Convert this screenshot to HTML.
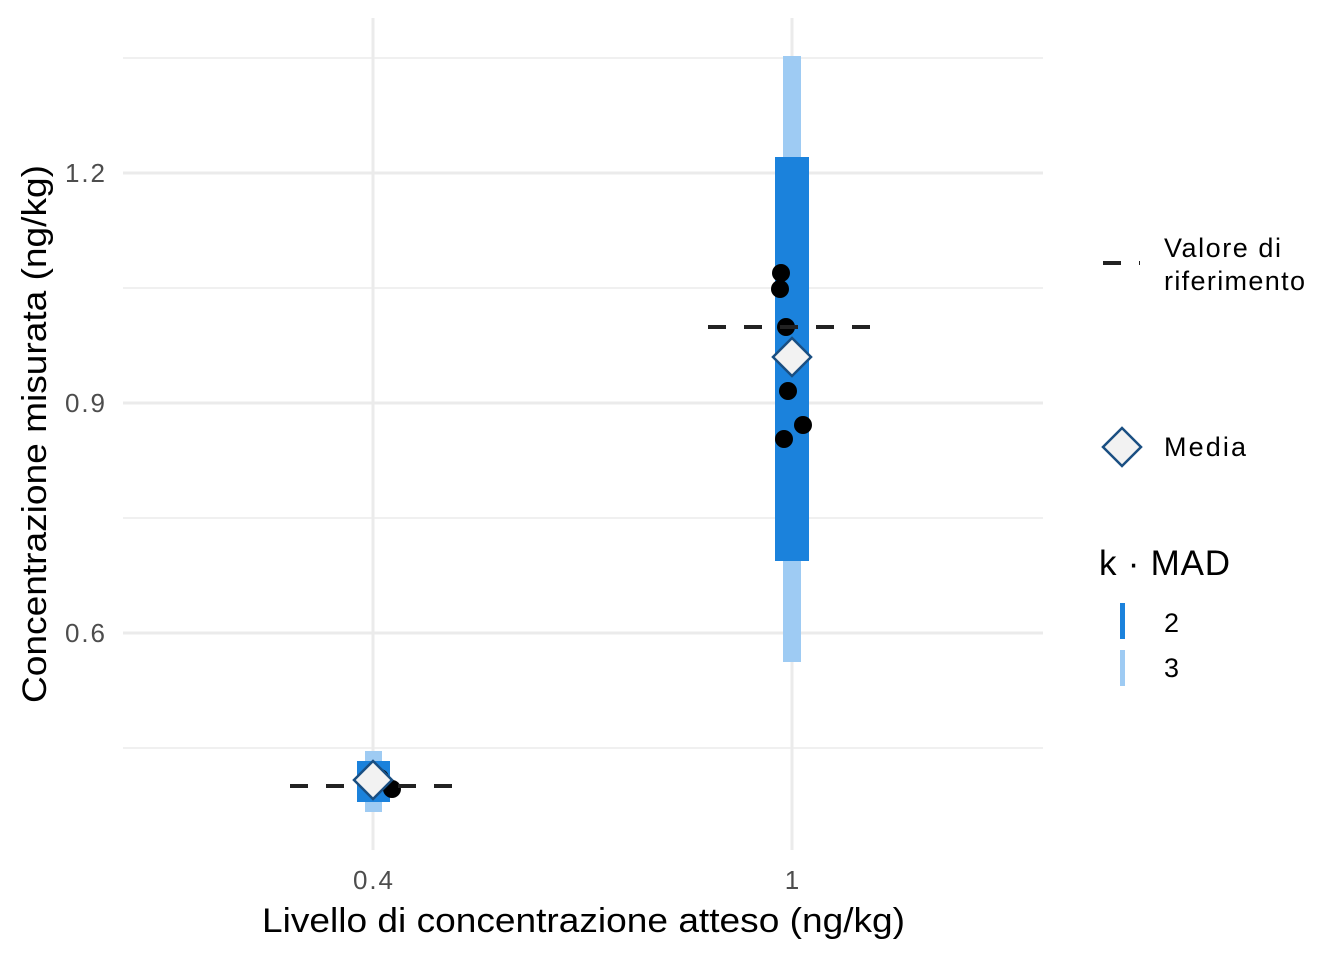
<!DOCTYPE html><html><head><meta charset="utf-8"><style>body{margin:0;background:#fff}</style></head><body>
<svg width="1344" height="960" xmlns="http://www.w3.org/2000/svg" font-family="Liberation Sans, sans-serif">
<rect width="1344" height="960" fill="#fff"/>
<g stroke="#ebebeb" stroke-width="1.5">
<line x1="123" x2="1043" y1="58" y2="58"/><line x1="123" x2="1043" y1="288" y2="288"/><line x1="123" x2="1043" y1="518" y2="518"/><line x1="123" x2="1043" y1="748" y2="748"/>
</g>
<g stroke="#ebebeb" stroke-width="3">
<line x1="123" x2="1043" y1="173" y2="173"/><line x1="123" x2="1043" y1="403" y2="403"/><line x1="123" x2="1043" y1="633" y2="633"/>
<line x1="373" x2="373" y1="18" y2="850"/><line x1="792" x2="792" y1="18" y2="850"/>
</g>
<rect x="783" y="56" width="18" height="606" fill="#9ecbf3"/>
<rect x="775" y="157" width="34" height="404" fill="#1b82dc"/>
<rect x="365" y="751" width="17" height="61" fill="#9ecbf3"/>
<rect x="357" y="761" width="33" height="41" fill="#1b82dc"/>
<g fill="#000">
<circle cx="781" cy="273" r="9"/><circle cx="780" cy="289" r="9"/><circle cx="786" cy="327" r="9"/><circle cx="788" cy="391" r="9"/><circle cx="803" cy="425" r="9"/><circle cx="784" cy="439" r="9"/>
<circle cx="380" cy="778" r="9"/><circle cx="392" cy="789" r="9"/><circle cx="373" cy="782" r="9"/>
</g>
<g stroke="#222" stroke-width="4" stroke-dasharray="18,18">
<line x1="708" x2="873" y1="327" y2="327"/><line x1="290" x2="455" y1="786" y2="786"/>
</g>
<g fill="#f2f2f2" stroke="#1a4f82" stroke-width="2.5">
<polygon points="792,338 811,357 792,376 773,357"/>
<polygon points="373,761 392,780 373,799 354,780"/>
</g>
<g font-size="26" fill="#4d4d4d">
<text x="105" y="182" text-anchor="end" textLength="40">1.2</text><text x="105" y="412" text-anchor="end" textLength="40">0.9</text><text x="105" y="642" text-anchor="end" textLength="40">0.6</text>
<text x="373" y="889" text-anchor="middle" textLength="40">0.4</text><text x="792" y="889" text-anchor="middle">1</text>
</g>
<text x="262" y="932" font-size="34" fill="#000" textLength="643" lengthAdjust="spacingAndGlyphs">Livello di concentrazione atteso (ng/kg)</text>
<text transform="translate(46,703) rotate(-90)" font-size="34" fill="#000" textLength="538" lengthAdjust="spacingAndGlyphs">Concentrazione misurata (ng/kg)</text>
<line x1="1103" x2="1140" y1="263" y2="263" stroke="#222" stroke-width="4" stroke-dasharray="18,18"/>
<text x="1164" y="257" font-size="27" textLength="117">Valore di</text><text x="1164" y="290" font-size="27" textLength="141">riferimento</text>
<polygon points="1122,428 1141,447 1122,466 1103,447" fill="#f2f2f2" stroke="#1a4f82" stroke-width="2.5"/>
<text x="1164" y="456" font-size="27" textLength="82">Media</text>
<text x="1099" y="575" font-size="35" textLength="131">k · MAD</text>
<rect x="1120" y="603" width="5" height="36" fill="#1b82dc"/>
<rect x="1120" y="650" width="5" height="36" fill="#9ecbf3"/>
<text x="1164" y="632" font-size="27">2</text><text x="1164" y="677" font-size="27">3</text>
</svg></body></html>
